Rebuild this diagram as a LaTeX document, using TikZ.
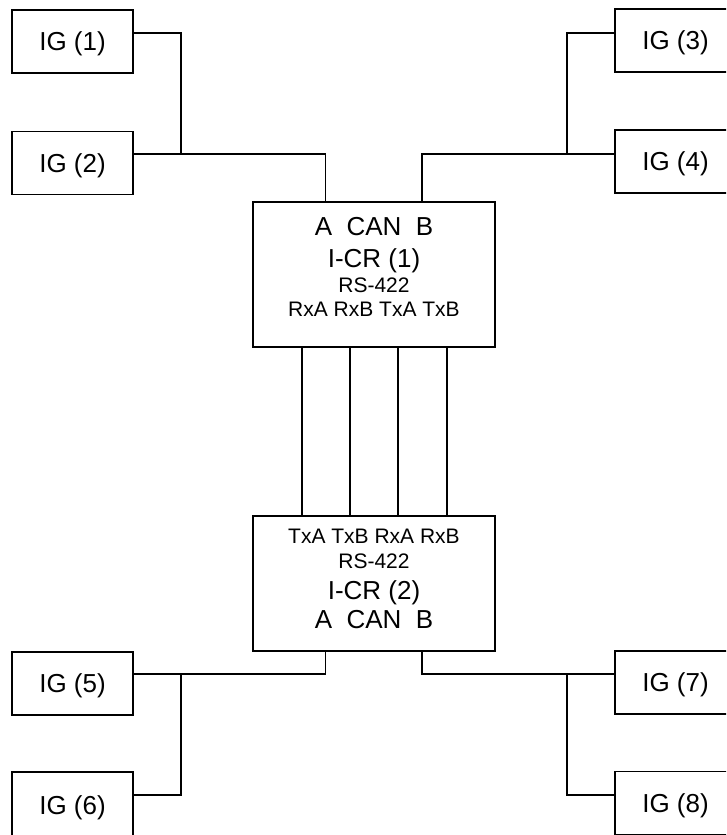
\documentclass[tikz,border=0pt]{standalone}
\usepackage{fontspec}
\setmainfont{Liberation Sans}
\usetikzlibrary{positioning,calc}

\begin{document}
\begin{tikzpicture}[
  x=1pt, y=-1pt,
  every node/.style={align=center},
  igbox/.style={rectangle, draw, line width=1.5pt, minimum width=121pt, minimum height=63pt, inner sep=0pt, text depth=0pt, font=\fontsize{26}{30}\selectfont},
  crbox/.style={rectangle, draw, line width=1.5pt, minimum width=242pt, inner sep=0pt},
  crtext/.style={inner sep=0pt, font=\fontsize{21}{24.5}\selectfont},
  wire/.style={draw, line width=1.5pt}
]
  \path[use as bounding box, clip] (0,0) rectangle (726,835);

  % Interface boxes, left and right columns
  \node[igbox] (ig1) at (72.5,41.5) {IG (1)};
  \node[igbox] (ig2) at (72.5,163) {IG (2)};
  \node[igbox] (ig3) at (675.5,40.5) {IG (3)};
  \node[igbox] (ig4) at (675.5,161.5) {IG (4)};
  \node[igbox] (ig5) at (72.5,683.5) {IG (5)};
  \node[igbox, minimum height=67pt] (ig6) at (72.5,805.5) {IG (6)};
  \node[igbox] (ig7) at (675.5,682.5) {IG (7)};
  \node[igbox] (ig8) at (675.5,803) {IG (8)};

  % Converter boxes
  \node[crbox, minimum height=145pt] (icr1) at (374,274.5) {};
  \node[crtext, anchor=north] (icr1txt) at ([yshift=-16pt]icr1.north)
    {\fontsize{26}{30}\selectfont A\ \ CAN\ \ B\\[7.5pt]
     \fontsize{26}{30}\selectfont I-CR (1)\\
     RS-422\\
     RxA RxB TxA TxB};
  \node[crbox, minimum height=135pt] (icr2) at (374,583.5) {};
  \node[crtext, anchor=north] (icr2txt) at ([yshift=-14pt]icr2.north)
    {TxA TxB RxA RxB\\
     RS-422\\[6.5pt]
     \fontsize{26}{30}\selectfont I-CR (2)\\[4.5pt]
     \fontsize{26}{30}\selectfont A\ \ CAN\ \ B};

  % Junction points of the CAN buses
  \coordinate (jA1) at (181,154);
  \coordinate (jB1) at (567,154);
  \coordinate (jA2) at (181,674);
  \coordinate (jB2) at (567,674);

  % CAN buses of I-CR (1)
  \draw[wire] ([yshift=8.5pt]ig1.east) -| (jA1);
  \draw[wire] ([yshift=9pt]ig2.east) -| ([xshift=-48.5pt]icr1.north);
  \draw[wire] ([yshift=7.5pt]ig3.west) -| (jB1);
  \draw[wire] ([yshift=7.5pt]ig4.west) -| ([xshift=48pt]icr1.north);

  % RS-422 link between the converters
  \foreach \dx in {-72,-24,24,73}
    \draw[wire] ([xshift=\dx pt]icr1.south) -- ([xshift=\dx pt]icr2.north);

  % CAN buses of I-CR (2)
  \draw[wire] ([xshift=-48.5pt]icr2.south) |- ([yshift=9.5pt]ig5.east);
  \draw[wire] (jA2) |- ([yshift=10.5pt]ig6.east);
  \draw[wire] ([xshift=48pt]icr2.south) |- ([yshift=8.5pt]ig7.west);
  \draw[wire] (jB2) |- ([yshift=8pt]ig8.west);
\end{tikzpicture}
\end{document}
